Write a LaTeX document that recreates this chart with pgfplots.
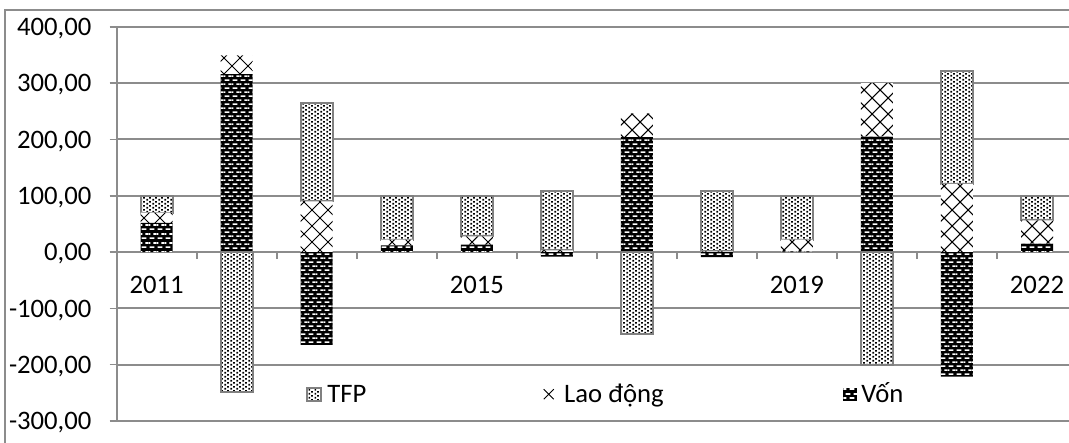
\documentclass[border=0pt]{standalone}
\usepackage{pgfplots}
\pgfplotsset{compat=1.18}
\usepackage{fontspec}
\setmainfont{Carlito}
\usetikzlibrary{patterns}
\definecolor{gridgray}{HTML}{8C8C8C}
\definecolor{tfpgray}{HTML}{808080}
\newcommand\chartfont{\fontsize{20pt}{23pt}\selectfont}

\pgfdeclarepatternformonly{tfpdots}{\pgfpointorigin}{\pgfpoint{4.2pt}{3.3pt}}{\pgfpoint{4.2pt}{3.3pt}}{%
  \pgfpathrectangle{\pgfpoint{0.4pt}{0.4pt}}{\pgfpoint{1.35pt}{1.35pt}}%
  \pgfpathrectangle{\pgfpoint{2.5pt}{2.05pt}}{\pgfpoint{1.35pt}{1.25pt}}%
  \pgfusepath{fill}}
\pgfdeclarepatternformonly{laocross}{\pgfpoint{-1pt}{-1pt}}{\pgfpoint{13pt}{13pt}}{\pgfpoint{12pt}{12pt}}{%
  \pgfsetlinewidth{0.75pt}%
  \pgfpathmoveto{\pgfpoint{-0.5pt}{-0.5pt}}\pgfpathlineto{\pgfpoint{12.5pt}{12.5pt}}%
  \pgfpathmoveto{\pgfpoint{-0.5pt}{12.5pt}}\pgfpathlineto{\pgfpoint{12.5pt}{-0.5pt}}%
  \pgfusepath{stroke}}
\pgfdeclarepatternformonly{vondash}{\pgfpointorigin}{\pgfpoint{6.25pt}{6.3pt}}{\pgfpoint{6.25pt}{6.3pt}}{%
  \pgfpathrectangle{\pgfpoint{0.5pt}{0.9pt}}{\pgfpoint{3.75pt}{1.25pt}}%
  \pgfpathrectangle{\pgfpoint{3.6pt}{4.05pt}}{\pgfpoint{2.65pt}{1.25pt}}%
  \pgfpathrectangle{\pgfpoint{0pt}{4.05pt}}{\pgfpoint{1.1pt}{1.25pt}}%
  \pgfusepath{fill}}

\tikzset{
  vonstyle/.style={draw=none, preaction={fill=black}, pattern=vondash, pattern color=white},
  laostyle/.style={draw=none, preaction={fill=white}, pattern=laocross, pattern color=black},
  tfpstyle/.style={draw=tfpgray, line width=1.5pt, preaction={fill=white}, pattern=tfpdots, pattern color=black},
}
\pgfplotsset{
  base/.style={scale only axis, width=714.2pt, height=295.7pt,
    xmin=-0.5, xmax=11.4, ymin=-300, ymax=400, enlargelimits=false, bar width=24pt,
    legend style={anchor=west, draw=none, fill=none, inner sep=0pt, font=\chartfont,
      nodes={inner sep=0pt, text height=13pt, text depth=0pt}},
    legend image code/.code={\path[#1] (0pt,-5pt) rectangle (10.5pt,5pt);}},
}

\begin{document}
\begin{tikzpicture}
% Years whose TFP share is positive: capital, labour and TFP stacked upward
\begin{axis}[ybar stacked, base,
  axis x line=middle, axis y line=left,
  axis line style={-, draw=gridgray, line width=1.4pt},
  every inner x axis line/.append style={-},
  every outer y axis line/.append style={-},
  ymajorgrids, grid style={draw=gridgray, line width=1.4pt},
  ytick={-300,-200,...,400},
  xtick={0,...,11},
  xticklabels={2011,,,,2015,,,,2019,,,2022},
  minor xtick={-0.5,0.5,...,11.5},
  major x tick style={draw=none},
  minor x tick style={draw=gridgray, line width=1.2pt},
  ytick style={draw=gridgray, line width=1.2pt},
  tick align=outside,
  major tick length=5.25pt, minor tick length=5.25pt,
  /pgf/number format/assume math mode=true,
  yticklabel style={font=\chartfont, anchor=east, inner sep=0pt, text depth=0pt, xshift=-13.5pt,
    /pgf/number format/.cd, fixed, fixed zerofill, precision=2, use comma, 1000 sep={}},
  xticklabel style={font=\chartfont, anchor=north, inner sep=0pt, yshift=-13pt},
  legend style={at={(0.1988,0.068)}},
]
\addplot[vonstyle, forget plot] coordinates {(0,52) (2,0) (3,12) (4,13) (5,0) (7,0) (8,1) (10,0) (11,15)};
\addplot[laostyle, forget plot] coordinates {(0,18) (2,90) (3,10) (4,15) (5,3) (7,1) (8,21) (10,121) (11,41)};
\addplot[tfpstyle] coordinates {(0,30) (2,175) (3,78) (4,72) (5,105) (7,108) (8,78) (10,200) (11,44)};
\addlegendentry{\hspace{3.75pt}TFP}
\end{axis}
% Years whose TFP share is negative: capital and labour stacked upward
\begin{axis}[ybar stacked, base, hide axis, legend style={at={(0.4477,0.068)}}]
\addplot[vonstyle, forget plot] coordinates {(1,316) (6,204) (9,205)};
\addplot[laostyle, legend image code/.code={\draw[black, line width=0.7pt] (0pt,-3.75pt) -- (7.5pt,3.75pt) (0pt,3.75pt) -- (7.5pt,-3.75pt);}]
  coordinates {(1,33) (6,42) (9,95)};
\addlegendentry{\hspace{7.5pt}Lao động}
\end{axis}
% Negative shares, drawn downward from zero
\begin{axis}[ybar, bar shift=0pt, base, hide axis, legend style={at={(0.7627,0.068)}}]
\addplot[vonstyle] coordinates {(2,-165) (5,-8) (7,-9) (10,-221)};
\addlegendentry{\hspace{3pt}Vốn}
\addplot[tfpstyle, forget plot] coordinates {(1,-249) (6,-146) (9,-200)};
\end{axis}
\draw[gridgray, line width=1.5pt] (-83.8pt,-40pt) -- (-83.8pt,308.25pt) -- (740pt,308.25pt);
\pgfresetboundingbox
\useasboundingbox (-87.5pt,-15.75pt) rectangle (714.2pt,315.75pt);
\end{tikzpicture}
\end{document}
